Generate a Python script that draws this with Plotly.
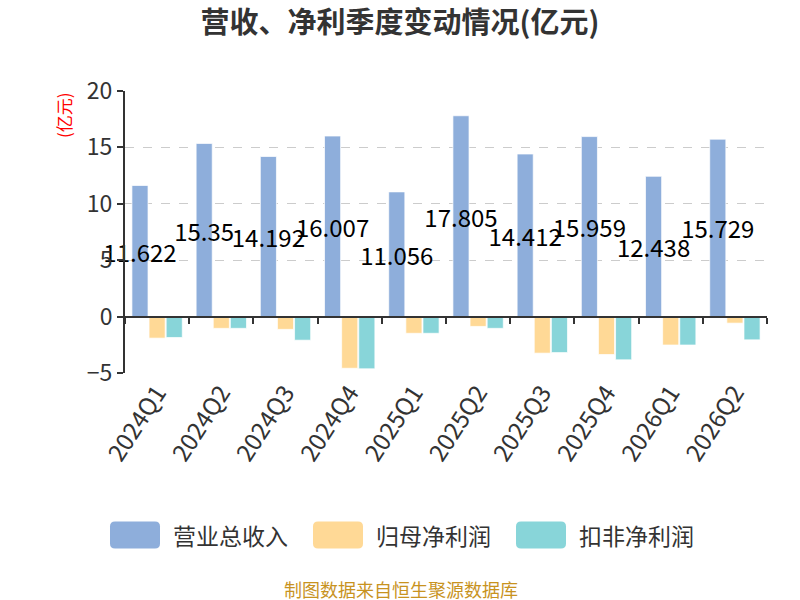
import plotly.graph_objects as go

# 季度與數值 (億元)
quarters = ['2024Q1', '2024Q2', '2024Q3', '2024Q4', '2025Q1',
            '2025Q2', '2025Q3', '2025Q4', '2026Q1', '2026Q2']
revenue = [11.622, 15.35, 14.192, 16.007, 11.056, 17.805, 14.412, 15.959, 12.438, 15.729]
net_profit = [-1.91, -1.04, -1.13, -4.58, -1.48, -0.87, -3.24, -3.36, -2.52, -0.58]
net_profit_deducted = [-1.85, -1.04, -2.09, -4.63, -1.48, -1.04, -3.19, -3.83, -2.52, -2.06]
series_names = ['营业总收入', '归母净利润', '扣非净利润']
series_colors = ['#8EAEDB', '#FFD996', '#88D5D9']

font_family = 'Noto Sans CJK SC, Noto Sans, sans-serif'

# 繪圖區 (像素)
W, H = 800, 600
L, R, T, B = 125, 33, 91, 227
PW, PH = W - L - R, H - T - B


def px_x(x):
    return (x - L) / PW


def px_y(y):
    return (H - B - y) / PH


fig = go.Figure()

bar_line = dict(color='rgba(255,255,255,0.7)', width=1)
fig.add_trace(go.Bar(
    x=quarters, y=revenue, name=series_names[0],
    marker=dict(color=series_colors[0], line=bar_line),
    text=[str(v) for v in revenue],
    textposition='inside', insidetextanchor='middle',
    constraintext='none', textangle=0, cliponaxis=False,
    textfont=dict(color='#000000', size=24, family=font_family),
))
fig.add_trace(go.Bar(
    x=quarters, y=net_profit, name=series_names[1],
    marker=dict(color=series_colors[1], line=bar_line),
))
fig.add_trace(go.Bar(
    x=quarters, y=net_profit_deducted, name=series_names[2],
    marker=dict(color=series_colors[2], line=bar_line),
))

# 隱形軌跡讓 xaxis2 (零軸) 產生分類刻度
fig.add_trace(go.Scatter(x=quarters, y=[0] * len(quarters), xaxis='x2', mode='markers',
                         marker=dict(opacity=0), showlegend=False, hoverinfo='skip'))

fig.update_layout(
    width=W, height=H,
    template='plotly_white',
    paper_bgcolor='white', plot_bgcolor='white',
    font=dict(family=font_family, color='#333333'),
    margin=dict(l=L, r=R, t=T, b=B),
    barmode='group', bargap=0.2, bargroupgap=0.06,
    title=dict(text='<b>营收、净利季度变动情况(亿元)</b>', x=0.5, xanchor='center',
               y=1 - 23 / H, yanchor='middle', font=dict(size=29, color='#333333')),
    showlegend=False,
    xaxis=dict(type='category', showline=False, showgrid=False, ticks='',
               tickangle=-57, tickfont=dict(size=24, color='#333333')),
    xaxis2=dict(type='category', categoryarray=quarters, categoryorder='array',
                overlaying='x', anchor='free', position=0.2, range=[-0.5, 9.5],
                showline=True, linecolor='#333333', linewidth=2,
                ticks='outside', tickson='boundaries', ticklen=6, tickwidth=2,
                tickcolor='#333333', showticklabels=False, showgrid=False),
    yaxis=dict(range=[-5, 20], dtick=5, showline=True, linecolor='#333333', linewidth=2,
               ticks='outside', ticklen=6, tickwidth=2, tickcolor='#333333',
               showgrid=True, gridcolor='#cccccc', griddash='dash', gridwidth=1,
               zeroline=False, tickfont=dict(size=23, color='#333333')),
)

# 自訂圖例 (圓角色塊)
swatch_left = [110, 313, 516]
sw_w, sw_h, rad = 50, 27, 5
sw_top = 521.5
for name, color, x0 in zip(series_names, series_colors, swatch_left):
    x1, y0, y1 = x0 + sw_w, sw_top, sw_top + sw_h
    path = (f'M {px_x(x0 + rad)} {px_y(y0)} L {px_x(x1 - rad)} {px_y(y0)} '
            f'Q {px_x(x1)} {px_y(y0)} {px_x(x1)} {px_y(y0 + rad)} '
            f'L {px_x(x1)} {px_y(y1 - rad)} Q {px_x(x1)} {px_y(y1)} {px_x(x1 - rad)} {px_y(y1)} '
            f'L {px_x(x0 + rad)} {px_y(y1)} Q {px_x(x0)} {px_y(y1)} {px_x(x0)} {px_y(y1 - rad)} '
            f'L {px_x(x0)} {px_y(y0 + rad)} Q {px_x(x0)} {px_y(y0)} {px_x(x0 + rad)} {px_y(y0)} Z')
    fig.add_shape(type='path', path=path, xref='paper', yref='paper',
                  fillcolor=color, line=dict(width=0))
    fig.add_annotation(text=name, xref='paper', yref='paper',
                       x=px_x(x1 + 11), y=px_y(535), xanchor='left', yanchor='middle',
                       showarrow=False, font=dict(size=23, color='#333333'))

fig.add_annotation(text='(亿元)', textangle=-90, xref='paper', yref='paper',
                   x=px_x(63), y=px_y(115), xanchor='center', yanchor='middle', showarrow=False,
                   font=dict(size=17, color='#ff0000'))
fig.add_annotation(text='制图数据来自恒生聚源数据库', xref='paper', yref='paper',
                   x=px_x(401), y=px_y(589), xanchor='center', yanchor='middle', showarrow=False,
                   font=dict(size=18, color='#C8931F'))

fig.write_html('out.html', config={'displayModeBar': False},
               post_script="document.body.style.margin='0';")
